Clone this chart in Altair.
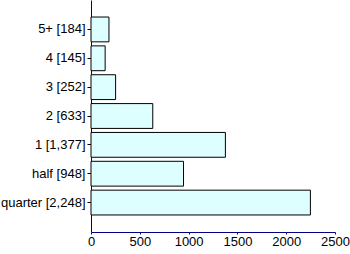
import altair as alt
import pandas as pd

categories = ["5+ [184]", "4 [145]", "3 [252]", "2 [633]", "1 [1,377]", "half [948]", "quarter [2,248]"]
values = [184, 145, 252, 633, 1377, 948, 2248]
x_ticks = [0, 500, 1000, 1500, 2000, 2500]

df = pd.DataFrame({"cat": categories, "val": values})

chart = alt.Chart(df).mark_bar(
    fill="#ddffff", stroke="black", strokeWidth=1
).encode(
    x=alt.X("val:Q", scale=alt.Scale(domain=[0, 2500], nice=False),
            axis=alt.Axis(values=x_ticks, format="d", title=None, grid=False, domainColor="#000080",
                          tickColor="#000080", tickSize=2, labelFont="Liberation Sans",
                          labelFontSize=13, labelColor="black", labelPadding=1,
                          labelFlush=False)),
    y=alt.Y("cat:N", sort=categories,
            scale=alt.Scale(paddingInner=0.14, paddingOuter=0.59),
            axis=alt.Axis(title=None, grid=False, domainColor="#000080", tickColor="black",
                          tickSize=4, labelFont="Liberation Sans", labelFontSize=13,
                          labelColor="black", labelPadding=2)),
).properties(
    width=244, height=232,
    autosize=alt.AutoSizeParams(type="none"),
    padding={"left": 91, "top": 0, "right": 15, "bottom": 22},
).configure_view(stroke=None)

chart.save("out.html", embed_options={"renderer": "svg", "actions": False})
